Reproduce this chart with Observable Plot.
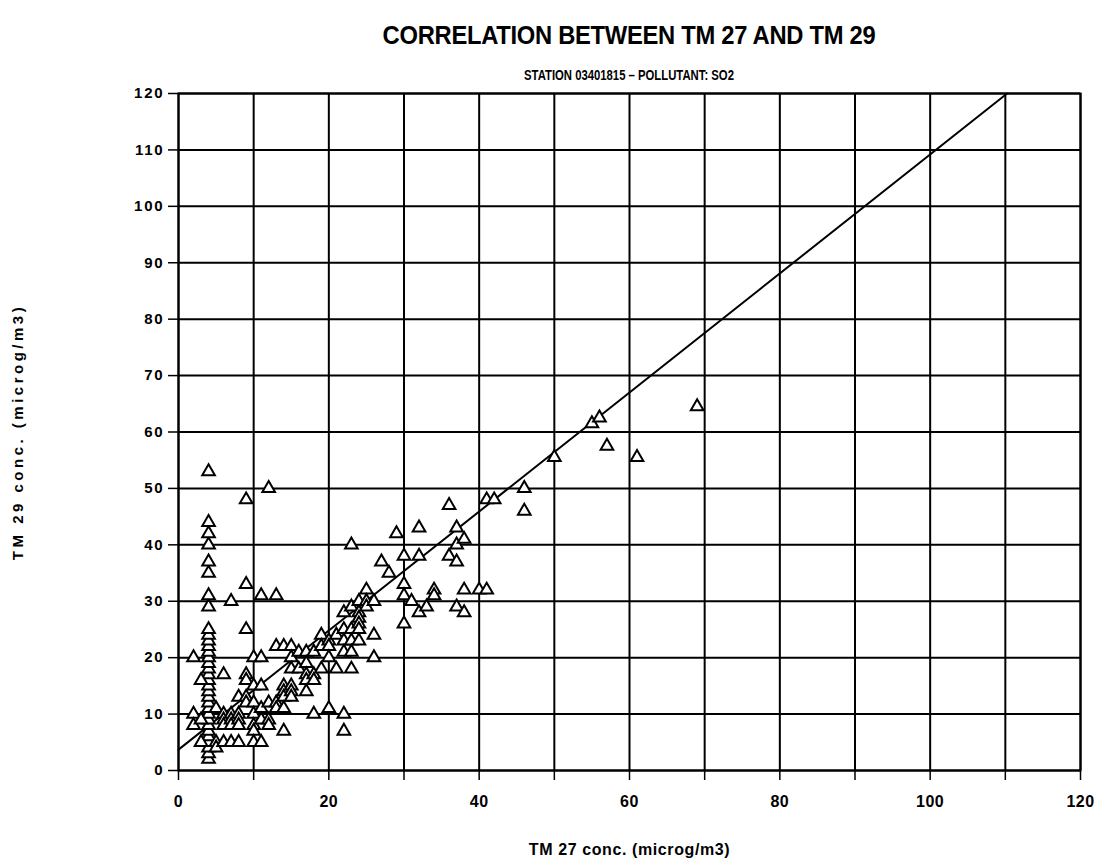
<!DOCTYPE html>
<html><head><meta charset="utf-8">
<script src="https://cdn.jsdelivr.net/npm/d3@7"></script>
<script src="https://cdn.jsdelivr.net/npm/@observablehq/plot@0.6"></script>
<style>
body{margin:0;background:#fff;font-family:"Liberation Sans",Arial,sans-serif;color:#000;}
#wrap{width:1105px;height:864px;position:relative;overflow:hidden;background:#fff;}
#title{position:absolute;left:178px;width:902px;top:21px;line-height:28px;font-size:25px;font-weight:bold;text-align:center;letter-spacing:-0.3px;transform:scaleX(0.95);transform-origin:451px 50%;}
#subtitle{position:absolute;left:178px;width:902px;top:66px;line-height:18px;font-size:14.5px;font-weight:bold;text-align:center;transform:scaleX(0.78);transform-origin:451px 50%;}
#chart{position:absolute;left:0;top:88px;}
g[aria-label="y-axis tick label"] text{letter-spacing:1.8px;font-size:15px;}
g[aria-label="x-axis tick label"] text{letter-spacing:0.5px;font-size:16px;}
g[aria-label="y-axis label"] text{letter-spacing:3.5px;font-size:15px;}
g[aria-label="x-axis label"] text{letter-spacing:0.6px;font-size:16px;}
</style></head><body>
<div id="wrap">
<div id="title">CORRELATION BETWEEN TM 27 AND TM 29</div>
<div id="subtitle">STATION 03401815 – POLLUTANT: SO2</div>
<div id="chart"></div>
</div>
<script>
// TM 27 concentration (x) and TM 29 concentration (y), microg/m3
const tm27 = [4,4,4,4,4,4,4,4,4,4,4,4,4,4,4,4,4,4,4,4,4,4,4,4,4,4,4,4,4,4,4,4,
  2,2,2,3,3,3,5,5,5,6,6,6,6,6,7,7,7,7,7,8,8,8,8,8,9,9,9,9,9,9,9,10,10,10,10,10,10,10,
  11,11,11,11,11,11,12,12,12,12,13,13,13,13,14,14,14,14,14,14,15,15,15,15,15,15,16,16,
  17,17,17,17,17,18,18,18,18,19,19,19,20,20,20,20,21,21,22,22,22,22,22,22,23,23,23,23,23,23,
  24,24,24,24,24,24,25,25,25,26,26,26,27,28,29,30,30,30,30,31,32,32,32,33,34,34,36,36,
  37,37,37,37,38,38,38,40,41,41,42,46,46,50,55,56,57,61,69];
const tm29 = [2,3,4,5,6,7,8,9,10,11,12,13,14,15,16,17,18,19,20,21,22,23,24,25,29,31,35,37,40,42,44,53,
  20,10,8,16,9,5,11,5,4,17,10,9,8,5,10,9,8,5,30,13,10,9,8,5,17,16,13,12,25,33,48,20,15,12,10,8,7,5,
  20,15,11,9,5,31,50,12,9,8,31,22,12,11,22,15,14,13,11,7,22,20,18,15,14,13,21,18,
  21,19,17,16,14,21,17,16,10,24,22,18,23,22,20,11,24,18,28,25,23,21,10,7,40,29,25,23,21,18,
  28,27,26,25,23,30,32,30,29,30,24,20,37,35,42,38,33,31,26,30,43,38,28,29,32,31,47,38,
  43,40,37,29,41,32,28,32,48,32,48,50,46,55.5,61.5,62.5,57.5,55.5,64.5];

// axis ticks
const xTicks = [0,10,20,30,40,50,60,70,80,90,100,110,120];
const xTickLabels = [0,20,40,60,80,100,120];
const yTicks = [0,10,20,30,40,50,60,70,80,90,100,110,120];

// fitted regression line (TM29 = a + b * TM27)
const fitIntercept = 3.7;
const fitSlope = 1.055;

const data = tm27.map((x, i) => ({x, y: tm29[i]}));
const yMax = yTicks[yTicks.length - 1];
const xFitEnd = (yMax - fitIntercept) / fitSlope;
const fitLine = [0, xFitEnd].map(x => ({x, y: fitIntercept + fitSlope * x}));

const chart = Plot.plot({
  width: 1105, height: 776,
  marginLeft: 178, marginRight: 25, marginTop: 5, marginBottom: 94,
  x: {domain: [0, 120]},
  y: {domain: [0, 120]},
  style: {fontFamily: '"Liberation Sans", Arial, sans-serif', fontSize: "14px", fontWeight: "bold", color: "black", background: "white", overflow: "visible"},
  marks: [
    Plot.gridX(xTicks, {stroke: "black", strokeOpacity: 1, strokeWidth: 2}),
    Plot.gridY(yTicks, {stroke: "black", strokeOpacity: 1, strokeWidth: 2}),
    Plot.frame({stroke: "black", strokeWidth: 2}),
    Plot.axisX({ticks: xTicks, tickSize: 10, tickPadding: 15, strokeWidth: 1.5,
      tickFormat: d => xTickLabels.includes(d) ? String(d) : "",
      label: "TM 27 conc. (microg/m3)", labelAnchor: "center", labelArrow: "none", labelOffset: 84}),
    Plot.axisY({ticks: yTicks, tickSize: 10, tickPadding: 4, strokeWidth: 1.5,
      label: "TM 29 conc. (microg/m3)", labelAnchor: "center", labelArrow: "none", labelOffset: 166}),
    Plot.line(fitLine, {x: "x", y: "y", stroke: "black", strokeWidth: 2}),
    Plot.dot(data, {x: "x", y: "y", symbol: "triangle", r: 4.7, fill: "white", stroke: "black", strokeWidth: 2})
  ]
});
document.getElementById("chart").appendChild(chart);
</script>
</body></html>
